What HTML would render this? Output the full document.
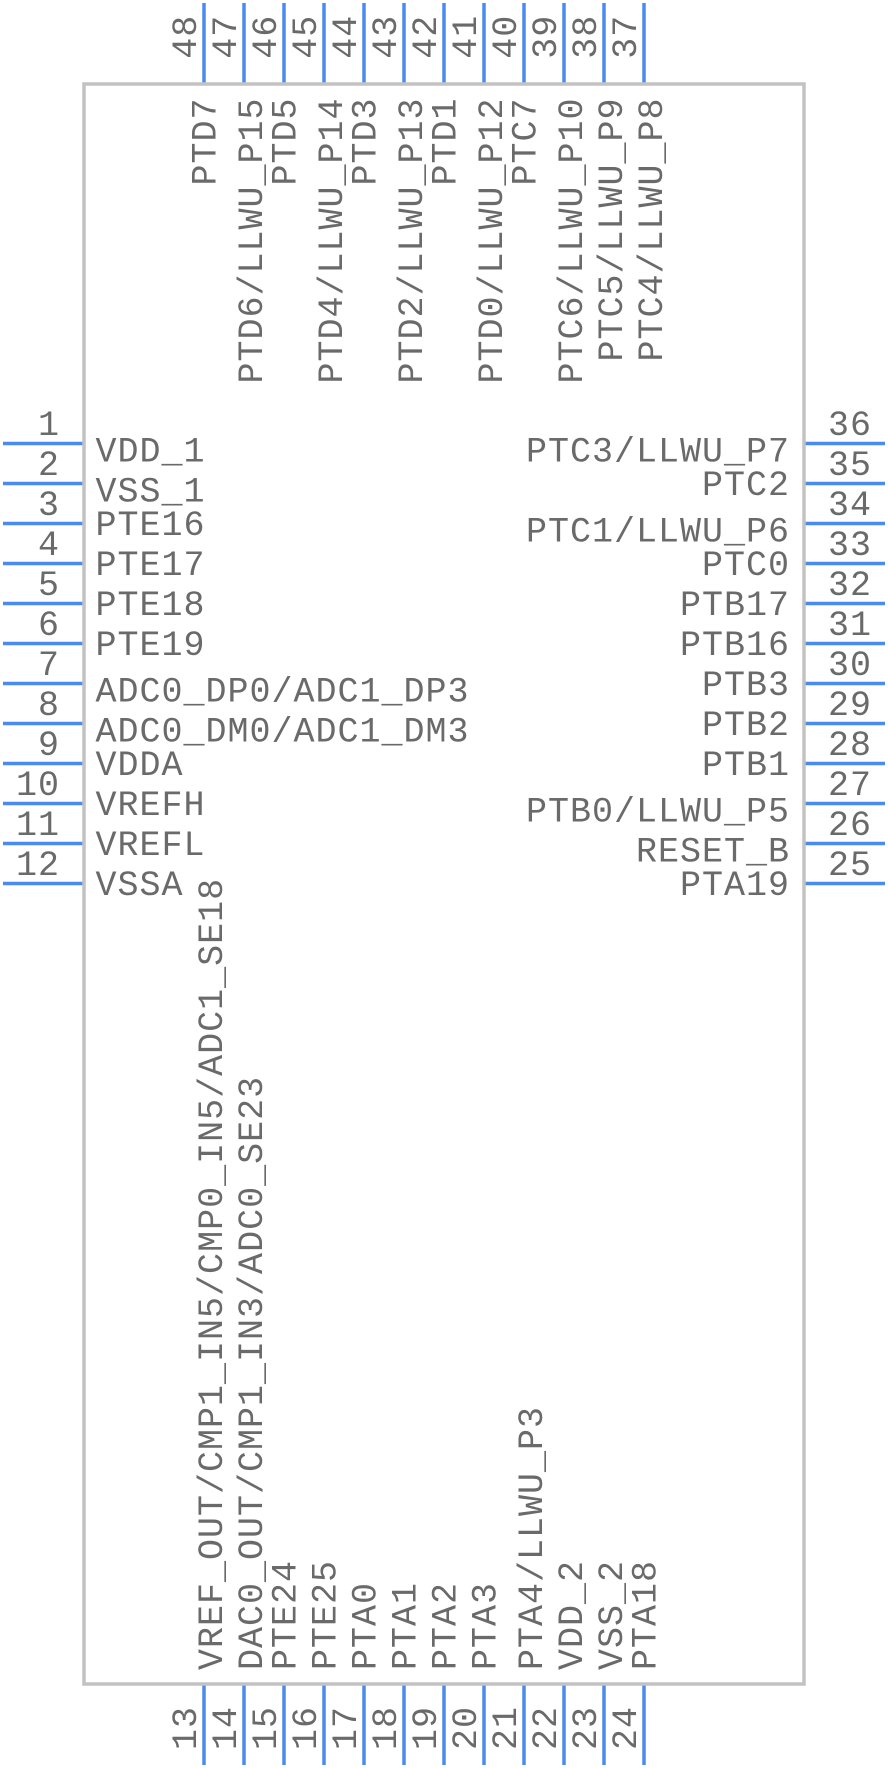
<!DOCTYPE html>
<html>
<head>
<meta charset="utf-8">
<style>
html,body{margin:0;padding:0;background:#fff;}
svg{display:block;}
text{font-family:"Liberation Mono","DejaVu Sans Mono",monospace;font-size:35px;letter-spacing:1px;fill:#6a6a6a;}
</style>
</head>
<body>
<svg width="888" height="1768" viewBox="0 0 888 1768" xmlns="http://www.w3.org/2000/svg">
<rect x="0" y="0" width="888" height="1768" fill="#ffffff"/>
<!-- pins -->
<g stroke="#4a8bf0" stroke-width="3.5" fill="none">
<!-- left -->
<line x1="3" y1="443.5" x2="84" y2="443.5"/>
<line x1="3" y1="483.5" x2="84" y2="483.5"/>
<line x1="3" y1="523.5" x2="84" y2="523.5"/>
<line x1="3" y1="563.5" x2="84" y2="563.5"/>
<line x1="3" y1="603.5" x2="84" y2="603.5"/>
<line x1="3" y1="643.5" x2="84" y2="643.5"/>
<line x1="3" y1="683.5" x2="84" y2="683.5"/>
<line x1="3" y1="723.5" x2="84" y2="723.5"/>
<line x1="3" y1="763.5" x2="84" y2="763.5"/>
<line x1="3" y1="803.5" x2="84" y2="803.5"/>
<line x1="3" y1="843.5" x2="84" y2="843.5"/>
<line x1="3" y1="883.5" x2="84" y2="883.5"/>
<!-- right -->
<line x1="804" y1="443.5" x2="885" y2="443.5"/>
<line x1="804" y1="483.5" x2="885" y2="483.5"/>
<line x1="804" y1="523.5" x2="885" y2="523.5"/>
<line x1="804" y1="563.5" x2="885" y2="563.5"/>
<line x1="804" y1="603.5" x2="885" y2="603.5"/>
<line x1="804" y1="643.5" x2="885" y2="643.5"/>
<line x1="804" y1="683.5" x2="885" y2="683.5"/>
<line x1="804" y1="723.5" x2="885" y2="723.5"/>
<line x1="804" y1="763.5" x2="885" y2="763.5"/>
<line x1="804" y1="803.5" x2="885" y2="803.5"/>
<line x1="804" y1="843.5" x2="885" y2="843.5"/>
<line x1="804" y1="883.5" x2="885" y2="883.5"/>
<!-- top -->
<line x1="204" y1="3" x2="204" y2="84"/>
<line x1="244" y1="3" x2="244" y2="84"/>
<line x1="284" y1="3" x2="284" y2="84"/>
<line x1="324" y1="3" x2="324" y2="84"/>
<line x1="364" y1="3" x2="364" y2="84"/>
<line x1="404" y1="3" x2="404" y2="84"/>
<line x1="444" y1="3" x2="444" y2="84"/>
<line x1="484" y1="3" x2="484" y2="84"/>
<line x1="524" y1="3" x2="524" y2="84"/>
<line x1="564" y1="3" x2="564" y2="84"/>
<line x1="604" y1="3" x2="604" y2="84"/>
<line x1="644" y1="3" x2="644" y2="84"/>
<!-- bottom -->
<line x1="204" y1="1684" x2="204" y2="1765"/>
<line x1="244" y1="1684" x2="244" y2="1765"/>
<line x1="284" y1="1684" x2="284" y2="1765"/>
<line x1="324" y1="1684" x2="324" y2="1765"/>
<line x1="364" y1="1684" x2="364" y2="1765"/>
<line x1="404" y1="1684" x2="404" y2="1765"/>
<line x1="444" y1="1684" x2="444" y2="1765"/>
<line x1="484" y1="1684" x2="484" y2="1765"/>
<line x1="524" y1="1684" x2="524" y2="1765"/>
<line x1="564" y1="1684" x2="564" y2="1765"/>
<line x1="604" y1="1684" x2="604" y2="1765"/>
<line x1="644" y1="1684" x2="644" y2="1765"/>
</g>
<!-- body -->
<rect x="84" y="84" width="720" height="1600" fill="none" stroke="#c2c2c2" stroke-width="3.5"/>

<!-- left pin numbers -->
<g text-anchor="end">
<text x="60" y="435">1</text>
<text x="60" y="475">2</text>
<text x="60" y="515">3</text>
<text x="60" y="555">4</text>
<text x="60" y="595">5</text>
<text x="60" y="635">6</text>
<text x="60" y="675">7</text>
<text x="60" y="715">8</text>
<text x="60" y="755">9</text>
<text x="60" y="795">10</text>
<text x="60" y="835">11</text>
<text x="60" y="875">12</text>
</g>
<!-- left labels -->
<g text-anchor="start">
<text x="95.5" y="461.5">VDD_1</text>
<text x="95.5" y="501.5">VSS_1</text>
<text x="95.5" y="535">PTE16</text>
<text x="95.5" y="575">PTE17</text>
<text x="95.5" y="615">PTE18</text>
<text x="95.5" y="655">PTE19</text>
<text x="95.5" y="701.5">ADC0_DP0/ADC1_DP3</text>
<text x="95.5" y="741.5">ADC0_DM0/ADC1_DM3</text>
<text x="95.5" y="775">VDDA</text>
<text x="95.5" y="815">VREFH</text>
<text x="95.5" y="855">VREFL</text>
<text x="95.5" y="895">VSSA</text>
</g>

<!-- right pin numbers -->
<g text-anchor="start">
<text x="828" y="435">36</text>
<text x="828" y="475">35</text>
<text x="828" y="515">34</text>
<text x="828" y="555">33</text>
<text x="828" y="595">32</text>
<text x="828" y="635">31</text>
<text x="828" y="675">30</text>
<text x="828" y="715">29</text>
<text x="828" y="755">28</text>
<text x="828" y="795">27</text>
<text x="828" y="835">26</text>
<text x="828" y="875">25</text>
</g>
<!-- right labels -->
<g text-anchor="end">
<text x="790" y="461.5">PTC3/LLWU_P7</text>
<text x="790" y="495">PTC2</text>
<text x="790" y="541.5">PTC1/LLWU_P6</text>
<text x="790" y="575">PTC0</text>
<text x="790" y="615">PTB17</text>
<text x="790" y="655">PTB16</text>
<text x="790" y="695">PTB3</text>
<text x="790" y="735">PTB2</text>
<text x="790" y="775">PTB1</text>
<text x="790" y="821.5">PTB0/LLWU_P5</text>
<text x="790" y="861.5">RESET_B</text>
<text x="790" y="895">PTA19</text>
</g>

<!-- top pin numbers -->
<g text-anchor="middle">
<text transform="translate(196,36.7) rotate(-90)">48</text>
<text transform="translate(236,36.7) rotate(-90)">47</text>
<text transform="translate(276,36.7) rotate(-90)">46</text>
<text transform="translate(316,36.7) rotate(-90)">45</text>
<text transform="translate(356,36.7) rotate(-90)">44</text>
<text transform="translate(396,36.7) rotate(-90)">43</text>
<text transform="translate(436,36.7) rotate(-90)">42</text>
<text transform="translate(476,36.7) rotate(-90)">41</text>
<text transform="translate(516,36.7) rotate(-90)">40</text>
<text transform="translate(556,36.7) rotate(-90)">39</text>
<text transform="translate(596,36.7) rotate(-90)">38</text>
<text transform="translate(636,36.7) rotate(-90)">37</text>
</g>
<!-- top labels -->
<g text-anchor="end">
<text transform="translate(215.5,97.5) rotate(-90)">PTD7</text>
<text transform="translate(262,97.5) rotate(-90)">PTD6/LLWU_P15</text>
<text transform="translate(295.5,97.5) rotate(-90)">PTD5</text>
<text transform="translate(342,97.5) rotate(-90)">PTD4/LLWU_P14</text>
<text transform="translate(375.5,97.5) rotate(-90)">PTD3</text>
<text transform="translate(422,97.5) rotate(-90)">PTD2/LLWU_P13</text>
<text transform="translate(455.5,97.5) rotate(-90)">PTD1</text>
<text transform="translate(502,97.5) rotate(-90)">PTD0/LLWU_P12</text>
<text transform="translate(535.5,97.5) rotate(-90)">PTC7</text>
<text transform="translate(582,97.5) rotate(-90)">PTC6/LLWU_P10</text>
<text transform="translate(622,97.5) rotate(-90)">PTC5/LLWU_P9</text>
<text transform="translate(662,97.5) rotate(-90)">PTC4/LLWU_P8</text>
</g>

<!-- bottom pin numbers -->
<g text-anchor="middle">
<text transform="translate(196,1728) rotate(-90)">13</text>
<text transform="translate(236,1728) rotate(-90)">14</text>
<text transform="translate(276,1728) rotate(-90)">15</text>
<text transform="translate(316,1728) rotate(-90)">16</text>
<text transform="translate(356,1728) rotate(-90)">17</text>
<text transform="translate(396,1728) rotate(-90)">18</text>
<text transform="translate(436,1728) rotate(-90)">19</text>
<text transform="translate(476,1728) rotate(-90)">20</text>
<text transform="translate(516,1728) rotate(-90)">21</text>
<text transform="translate(556,1728) rotate(-90)">22</text>
<text transform="translate(596,1728) rotate(-90)">23</text>
<text transform="translate(636,1728) rotate(-90)">24</text>
</g>
<!-- bottom labels -->
<g text-anchor="start">
<text transform="translate(222,1670) rotate(-90)">VREF_OUT/CMP1_IN5/CMP0_IN5/ADC1_SE18</text>
<text transform="translate(262,1670) rotate(-90)">DAC0_OUT/CMP1_IN3/ADC0_SE23</text>
<text transform="translate(295.5,1670) rotate(-90)">PTE24</text>
<text transform="translate(335.5,1670) rotate(-90)">PTE25</text>
<text transform="translate(375.5,1670) rotate(-90)">PTA0</text>
<text transform="translate(415.5,1670) rotate(-90)">PTA1</text>
<text transform="translate(455.5,1670) rotate(-90)">PTA2</text>
<text transform="translate(495.5,1670) rotate(-90)">PTA3</text>
<text transform="translate(542,1670) rotate(-90)">PTA4/LLWU_P3</text>
<text transform="translate(582,1670) rotate(-90)">VDD_2</text>
<text transform="translate(622,1670) rotate(-90)">VSS_2</text>
<text transform="translate(655.5,1670) rotate(-90)">PTA18</text>
</g>
</svg>
</body>
</html>
